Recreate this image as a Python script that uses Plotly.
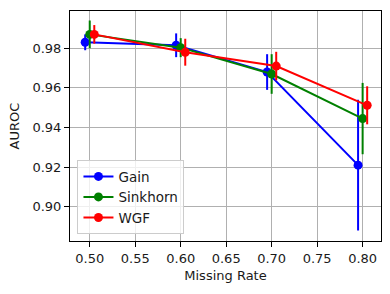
import plotly.graph_objects as go

rates = [0.50, 0.60, 0.70, 0.80]
offsets = {"Gain": -0.005, "Sinkhorn": 0.0, "WGF": 0.005}

gain_auroc = [0.983, 0.9815, 0.968, 0.921]
gain_err = [0.004, 0.006, 0.009, 0.033]
sinkhorn_auroc = [0.987, 0.9803, 0.967, 0.9445]
sinkhorn_err = [0.007, 0.0048, 0.010, 0.018]
wgf_auroc = [0.987, 0.978, 0.971, 0.9512]
wgf_err = [0.0047, 0.0068, 0.0072, 0.0096]

series = [
    ("Gain", gain_auroc, gain_err, "#0000ff"),
    ("Sinkhorn", sinkhorn_auroc, sinkhorn_err, "#008000"),
    ("WGF", wgf_auroc, wgf_err, "#ff0000"),
]

fig = go.Figure()
for name, vals, errs, color in series:
    xs = [r + offsets[name] for r in rates]
    fig.add_trace(go.Scatter(
        x=xs, y=vals, name=name, mode="lines+markers",
        line=dict(color=color, width=2),
        marker=dict(color=color, size=9),
        error_y=dict(type="data", array=errs, visible=True, color=color,
                     thickness=2, width=0),
    ))

font = dict(family="DejaVu Sans", size=13, color="#1a1a1a")
legend_font = dict(family="DejaVu Sans", size=13.5, color="#1a1a1a")
axis_common = dict(
    showline=True, linecolor="black", linewidth=1, mirror=True,
    showgrid=True, gridcolor="#b0b0b0", gridwidth=1,
    ticks="outside", ticklen=5, tickcolor="black", tickwidth=1,
    zeroline=False, tickfont=font, automargin=False,
)
fig.update_layout(
    width=390, height=294,
    margin=dict(l=70, r=9, t=11, b=53),
    paper_bgcolor="white", plot_bgcolor="white",
    font=font,
    showlegend=True,
    legend=dict(x=0.024, y=0.03, xanchor="left", yanchor="bottom",
                bgcolor="rgba(255,255,255,0.8)", bordercolor="#cccccc",
                borderwidth=1, font=legend_font, tracegroupgap=0,
                entrywidth=78),
    xaxis=dict(range=[0.4783, 0.8202], tick0=0.5, dtick=0.05, tickformat=".2f",
               title=dict(text="Missing Rate", font=font, standoff=6), **axis_common),
    yaxis=dict(range=[0.8827, 0.9988], tick0=0.9, dtick=0.02, tickformat=".2f",
               title=dict(text="AUROC", font=font, standoff=9), **axis_common),
)

fig.write_html("out.html", config={"displayModeBar": False},
               post_script="document.body.style.margin='0';")
